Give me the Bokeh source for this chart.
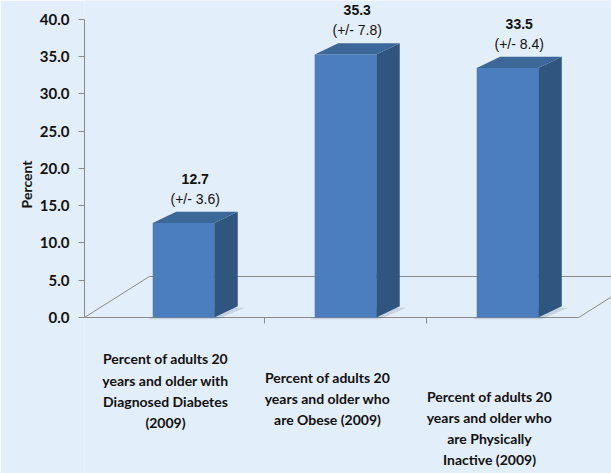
import numpy as np
from bokeh.plotting import figure
from bokeh.models import Range1d, FixedTicker, NumeralTickFormatter, Title
from bokeh.core.properties import value
from bokeh.embed import file_html
from bokeh.resources import INLINE

# ---- data ----
categories = [
    "Percent of adults 20\nyears and older with\nDiagnosed Diabetes\n(2009)",
    "Percent of adults 20\nyears and older who\nare Obese (2009)",
    "Percent of adults 20\nyears and older who\nare Physically\nInactive (2009)",
]
percents = [12.7, 35.3, 33.5]
margins = [3.6, 7.8, 8.4]
y_ticks = [0, 5, 10, 15, 20, 25, 30, 35, 40]

# ---- style ----
BG = "#e2eef9"
FRONT = "#4a7ebf"
SIDE = "#30557f"
TOP = "#3c6899"
AXIS = "#8a8a8a"
HW = 0.19      # half bar width (category units)
DX = 0.145     # depth offset x (category units)
DY = 1.5       # depth offset y (value units)

W, H = 611, 473
p = figure(width=W, height=H, output_backend="svg", toolbar_location=None,
           x_range=Range1d(-0.611, 2.642), y_range=Range1d(-20.94, 42.55),
           min_border_left=84, min_border_right=0, min_border_top=0,
           min_border_bottom=0)
p.title.visible = False
p.background_fill_color = BG
p.border_fill_color = BG
p.outline_line_color = None
p.grid.visible = False
p.xaxis.visible = False

ya = p.yaxis[0]
ya.ticker = FixedTicker(ticks=y_ticks)
ya.formatter = NumeralTickFormatter(format="0.0")
ya.bounds = (0, 40)
ya.axis_line_color = AXIS
ya.major_tick_line_color = AXIS
ya.minor_tick_line_color = None
ya.major_tick_out = 6
ya.major_tick_in = 0
ya.major_label_standoff = 9
ya.major_label_text_font = "Lato"
ya.major_label_text_font_style = "bold"
ya.major_label_text_font_size = "15px"
ya.major_label_text_color = "#111111"

xs = np.arange(len(percents), dtype=float)
x0 = p.x_range.start

# floor (parallelogram) behind bars
fl_right = xs[-1] + 0.44
fdx, fdy = 0.40, 5.5
p.multi_line(xs=[[x0, fl_right], [x0, x0 + fdx], [x0 + fdx, fl_right + fdx],
                 [fl_right, fl_right + fdx]],
             ys=[[0, 0], [0, fdy], [fdy, fdy], [0, fdy]],
             line_color=AXIS, line_width=1)
sep = xs[:-1] + 0.5
p.segment(x0=sep, y0=[0] * len(sep), x1=sep, y1=[-0.8] * len(sep),
          line_color=AXIS, line_width=1)

# soft shadows
p.patches(xs=[[x - HW - 0.03, x + HW + 0.02, x + HW + DX + 0.04, x - HW + DX]
              for x in xs],
          ys=[[-0.25, -0.25, DY - 0.2, DY - 0.2] for _ in xs],
          fill_color="#4f5f70", fill_alpha=0.18, line_color=None)

# bars: front, side, top
p.quad(left=xs - HW, right=xs + HW, bottom=0, top=percents,
       fill_color=FRONT, line_color=None)
p.patches(xs=[[x + HW, x + HW + DX, x + HW + DX, x + HW] for x in xs],
          ys=[[0, DY, v + DY, v] for v in percents],
          fill_color=SIDE, line_color=None)
p.patches(xs=[[x - HW, x + HW, x + HW + DX, x - HW + DX] for x in xs],
          ys=[[v, v, v + DY, v + DY] for v in percents],
          fill_color=TOP, line_color=None)

# value labels
tops = [v + DY for v in percents]
p.text(x=xs + DX / 2, y=tops, text=[f"{v:.1f}" for v in percents],
       text_font=value("Liberation Sans"), text_font_style="bold",
       text_font_size="14px", text_align="center", text_baseline="middle",
       text_color="#111111", y_offset=-33)
p.text(x=xs + DX / 2, y=tops, text=[f"(+/- {m:.1f})" for m in margins],
       text_font=value("Liberation Sans"), text_font_size="14px",
       text_align="center", text_baseline="middle", text_color="#111111",
       y_offset=-13)

# category labels (staggered like the perspective floor)
p.text(x=xs, y=[-4.4 - 2.5 * i for i in range(len(xs))], text=categories,
       x_offset=-18, text_font=value("Lato"), text_font_style="bold",
       text_font_size="14px", text_align="center", text_baseline="top",
       text_line_height=1.25, text_color="#111111")

# value-axis title
p.add_layout(Title(text="Percent", align="right", offset=160,
                   text_font="Lato", text_font_style="bold",
                   text_font_size="14px", text_color="#111111",
                   standoff=4), "left")

open("out.html", "w").write(file_html(p, INLINE))
